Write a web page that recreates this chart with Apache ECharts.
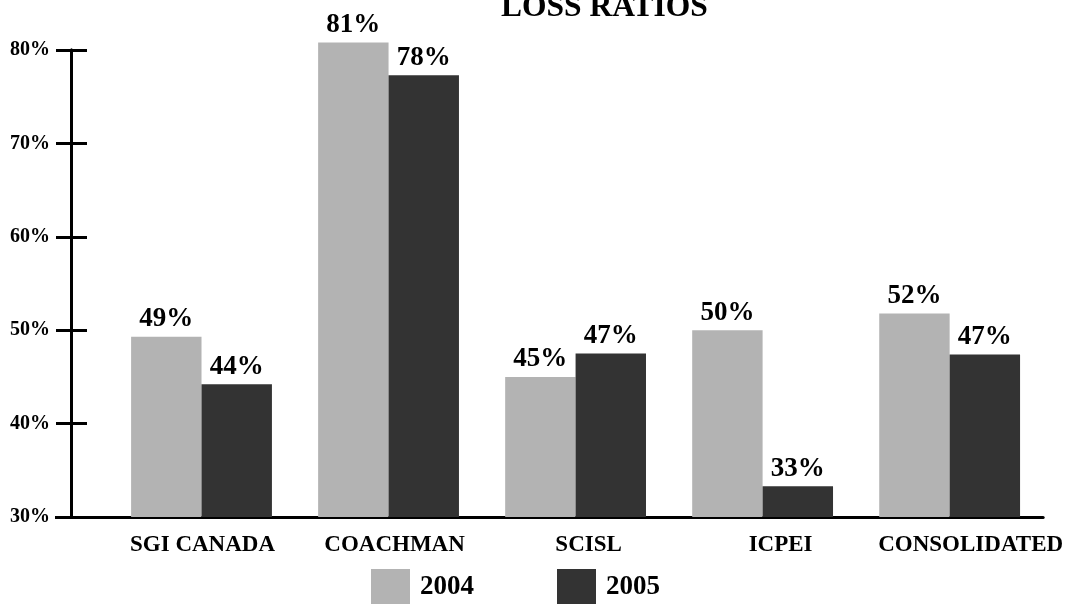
<!DOCTYPE html>
<html>
<head>
<meta charset="utf-8">
<script src="https://cdn.jsdelivr.net/npm/echarts@6/dist/echarts.min.js"></script>
<style>html,body{margin:0;padding:0;background:#fff;}#c{width:1066px;height:604px;}</style>
</head>
<body>
<div id="c"></div>
<script>
const categories = ['SGI CANADA', 'COACHMAN', 'SCISL', 'ICPEI', 'CONSOLIDATED'];
const values2004 = [49.3, 80.8, 45.0, 50.0, 51.8];
const values2005 = [44.2, 77.3, 47.5, 33.3, 47.4];
const labels2004 = ['49%', '81%', '45%', '50%', '52%'];
const labels2005 = ['44%', '78%', '47%', '33%', '47%'];
const yTicks = [30, 40, 50, 60, 70, 80];

// the value axis starts at 30%: bars are drawn from the axis floor
const BASE = yTicks[0];
const FONT = '"Liberation Serif", "DejaVu Serif", serif';
const GRID_LEFT = 108, GRID_RIGHT = 22, GRID_TOP = 50, GRID_BOTTOM = 87;
const Y_OFFSET = 37;
// horizontal nudge (px, as left padding) of each category label, style only
const LABEL_SHIFT = [2, 12, 26, 36, 42];

const chart = echarts.init(document.getElementById('c'), null, {renderer: 'canvas'});
const labelStyle = {
  show: true, position: 'top', distance: 4,
  fontFamily: FONT, fontWeight: 'bold', fontSize: 27, color: '#000'
};
const yBase = {
  type: 'value', min: 0, max: yTicks[yTicks.length - 1] - BASE, interval: 10,
  position: 'left', offset: Y_OFFSET,
  splitLine: {show: false},
  axisLine: {show: true, lineStyle: {color: '#000', width: 3}}
};
const rich = {};
LABEL_SHIFT.forEach((s, i) => {
  rich['c' + i] = {fontFamily: FONT, fontWeight: 'bold', fontSize: 23, color: '#000', padding: [0, 0, 0, s]};
});
chart.setOption({
  animation: false,
  title: {
    text: 'LOSS RATIOS', left: 501, top: -8, padding: 0,
    textStyle: {fontFamily: FONT, fontWeight: 'bold', fontSize: 31.5, color: '#000'}
  },
  legend: {
    left: 371, top: 569, padding: 0, itemWidth: 39, itemHeight: 36, itemGap: 83,
    icon: 'rect',
    textStyle: {fontFamily: FONT, fontWeight: 'bold', fontSize: 27, color: '#000', padding: [0, 0, 0, 5]},
    data: ['2004', '2005']
  },
  grid: {left: GRID_LEFT, right: GRID_RIGHT, top: GRID_TOP, bottom: GRID_BOTTOM, containLabel: false},
  xAxis: {
    type: 'category', data: categories,
    axisLine: {show: true, lineStyle: {color: '#000', width: 3}},
    axisTick: {show: false},
    axisLabel: {
      fontFamily: FONT, fontWeight: 'bold', fontSize: 23, color: '#000', margin: 17, interval: 0,
      formatter: (v, i) => '{c' + i + '|' + v + '}', rich: rich
    }
  },
  yAxis: [
    Object.assign({}, yBase, {
      axisTick: {show: true, inside: false, length: 15, lineStyle: {color: '#000', width: 3}},
      axisLabel: {
        margin: 21, fontFamily: FONT, fontWeight: 'bold', fontSize: 20, color: '#000',
        formatter: v => (v + BASE) + '%'
      }
    }),
    Object.assign({}, yBase, {
      axisTick: {show: true, inside: true, length: 16, lineStyle: {color: '#000', width: 3}},
      axisLabel: {show: false}
    })
  ],
  graphic: [{
    type: 'line', silent: true, z: 10,
    shape: {x1: GRID_LEFT - Y_OFFSET - 16, y1: 604 - GRID_BOTTOM + 0.5, x2: GRID_LEFT + 2, y2: 604 - GRID_BOTTOM + 0.5},
    style: {stroke: '#000', lineWidth: 3}
  }],
  series: [
    {
      name: '2004', type: 'bar', data: values2004.map(v => v - BASE), clip: false,
      barGap: '0%', barCategoryGap: '24.7%',
      itemStyle: {color: '#b3b3b3'},
      label: Object.assign({}, labelStyle, {formatter: p => labels2004[p.dataIndex]})
    },
    {
      name: '2005', type: 'bar', data: values2005.map(v => v - BASE), clip: false,
      itemStyle: {color: '#333333'},
      label: Object.assign({}, labelStyle, {formatter: p => labels2005[p.dataIndex]})
    }
  ]
});
</script>
</body>
</html>
